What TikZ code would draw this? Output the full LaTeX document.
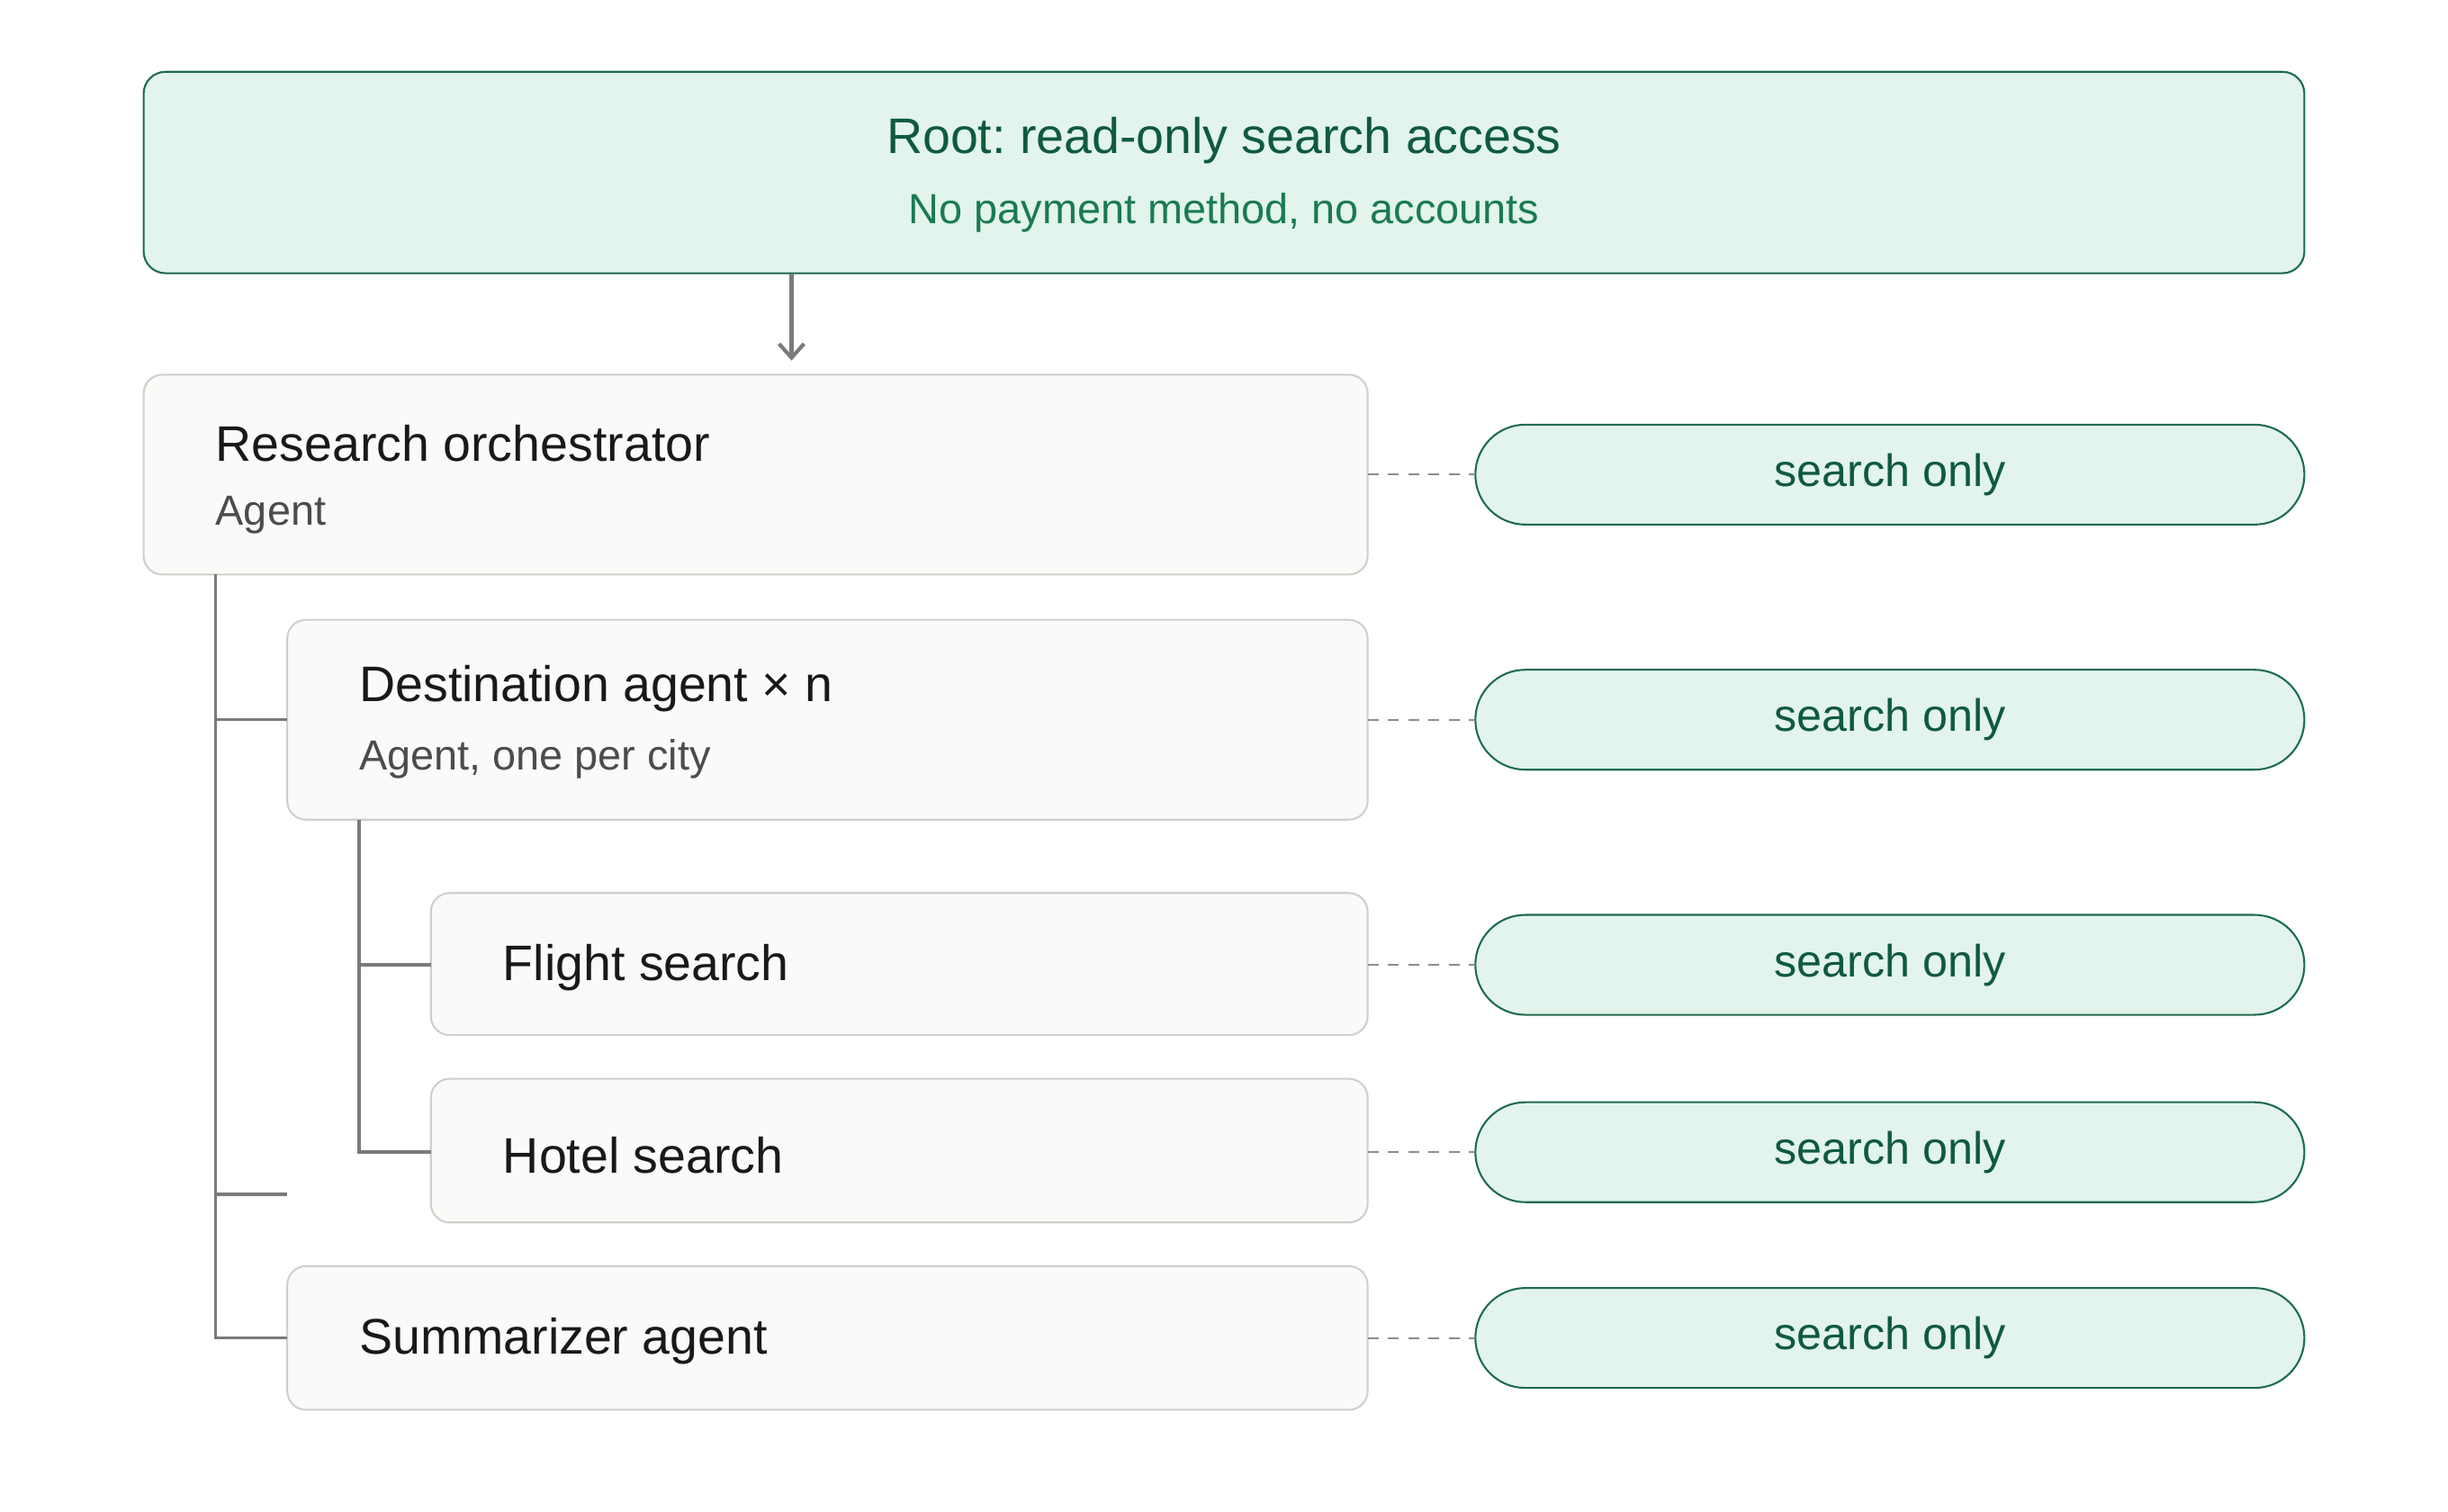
\documentclass[tikz,border=0pt]{standalone}
\usepackage{fontspec}
\setmainfont{Liberation Sans}
\usetikzlibrary{arrows.meta}
\definecolor{gfill}{HTML}{E2F4EC}
\definecolor{gline}{HTML}{1E6B4E}
\definecolor{gtext}{HTML}{0F5A3F}
\definecolor{gsub}{HTML}{1A7A55}
\definecolor{bfill}{HTML}{FAFAF8}
\definecolor{bline}{HTML}{CFCFCC}
\definecolor{tree}{HTML}{7A7A78}
\frenchspacing
\begin{document}
\begin{tikzpicture}[x=1pt,y=-1pt,
  box/.style={draw=bline,fill=bfill,line width=1.2pt,rounded corners=12pt},
  pill/.style={draw=gline,fill=gfill,line width=1.2pt,rounded corners=32pt,minimum width=531pt,minimum height=64pt,font=\fontsize{29}{32}\selectfont,text=gtext},
  tt/.style={anchor=west,inner sep=0pt,font=\fontsize{32}{36}\selectfont,text=black!90},
  st/.style={anchor=west,inner sep=0pt,font=\fontsize{27}{30}\selectfont,text=black!70},
  treel/.style={draw=tree,line width=2pt},
  dashl/.style={draw=black!45,line width=1.2pt,dash pattern=on 7pt off 6pt}]
\useasboundingbox (0,0) rectangle (1568,968);
\draw[draw=gline,fill=gfill,line width=1.2pt,rounded corners=14pt] (92,46) rectangle (1476,175);
\node[font=\fontsize{32}{36}\selectfont,text=gtext] (rt) at (784,90) {Root: read-only search access};
\node[font=\fontsize{27}{30}\selectfont,text=gsub] (rs) at (784,136) {No payment method, no accounts};
\coordinate (a1) at (507,175); \coordinate (a2) at (507,231);
\draw[draw=tree,line width=2.4pt,-{Straight Barb[length=9pt,width=16pt]}] (a1) -- (a2);

\draw[box] (92,240) rectangle (876,368);
\node[tt] (r1) at (138,284) {Research orchestrator};
\node[st] (r2) at (138,330) {Agent};
\draw[box] (184,397) rectangle (876,525);
\node[tt] (d1) at (230,441) {Destination agent × n};
\node[st] (d2) at (230,486) {Agent, one per city};
\draw[box] (276,572) rectangle (876,663);
\node[tt] (f1) at (322,620) {Flight search};
\draw[box] (276,691) rectangle (876,783);
\node[tt] (h1) at (322,740) {Hotel search};
\draw[box] (184,811) rectangle (876,903);
\node[tt] (s1) at (230,859) {Summarizer agent};

\draw[treel] (138,368) -- (138,857) -- (184,857);
\draw[treel] (138,461) -- (184,461);
\draw[treel] (138,765) -- (184,765);
\draw[treel] (230,525) -- (230,738) -- (276,738);
\draw[treel] (230,618) -- (276,618);

\foreach \y/\n in {304/p1,461/p2,618/p3,738/p4,857/p5}{
  \node[pill] (\n) at (1210.5,\y) {search only};
  \draw[dashl] (876,\y) -- (\n.west);
}
\end{tikzpicture}
\end{document}
